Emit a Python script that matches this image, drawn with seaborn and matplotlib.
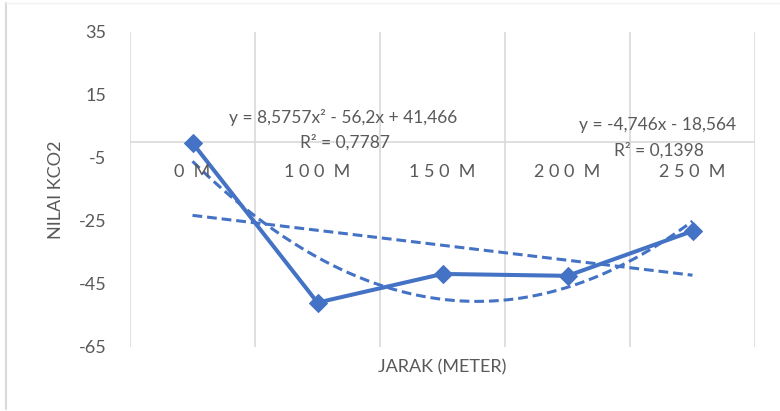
import numpy as np
import pandas as pd
import matplotlib
matplotlib.use('Agg')
import matplotlib.pyplot as plt
from matplotlib.lines import Line2D
import seaborn as sns

# data
jarak = ['0 M', '100 M', '150 M', '200 M', '250 M']
tick_text = ['0  M', '1 0 0  M', '1 5 0  M', '2 0 0  M', '2 5 0  M']
nilai_kco2 = [-0.3, -51.0, -41.9, -42.5, -28.3]
eq_poly = ['y = 8,5757x² - 56,2x + 41,466', 'R² = 0,7787']
eq_lin = ['y = -4,746x - 18,564', 'R² = 0,1398']

blue = '#4472C4'
grey = '#595959'
grid = '#d9d9d9'

sns.set_style('white')
plt.rcParams['font.family'] = ['Lato', 'DejaVu Sans']
plt.rcParams['axes.unicode_minus'] = False

df = pd.DataFrame({'pos': np.arange(len(jarak)), 'jarak': jarak, 'nilai': nilai_kco2})

# excel style trendlines, x = 1..n
xs = df['pos'].values + 1
p2 = np.polyfit(xs, df['nilai'], 2)
p1 = np.polyfit(xs, df['nilai'], 1)
xf = np.linspace(1, len(jarak), 200)
trend = pd.DataFrame({'pos': xf - 1, 'poly': np.polyval(p2, xf), 'lin': np.polyval(p1, xf)})

fig = plt.figure(figsize=(7.8, 4.11), dpi=100)
ax = fig.add_axes([130 / 780, 1 - 346.7 / 411, 625 / 780, 315 / 411])

dash = (0, (3.2, 1.6))
sns.lineplot(data=trend, x='pos', y='poly', ax=ax, color=blue, lw=2.2, linestyle=dash)
sns.lineplot(data=trend, x='pos', y='lin', ax=ax, color=blue, lw=2.2, linestyle=dash)
sns.lineplot(data=df, x='pos', y='nilai', ax=ax, color=blue, lw=2.9,
             marker='D', markersize=9.5, markeredgecolor=blue)

ax.set_xlim(-0.5, len(jarak) - 0.5)
ax.set_ylim(-65, 35)
ax.set_yticks(np.arange(-65, 36, 20))
ax.tick_params(axis='y', length=0, labelsize=13, labelcolor=grey, pad=17)
ax.set_xticks([])
for s in ax.spines.values():
    s.set_visible(False)
for b in np.arange(-0.5, len(jarak), 1):
    ax.axvline(b, color=grid, lw=1.2, zorder=0)
ax.axhline(0, color=grid, lw=1.2, zorder=0)

for i, t in enumerate(tick_text):
    ax.text(i, -9.5, t, ha='center', va='center', fontsize=13, color=grey)

# trendline labels (pixel positions of the reference)
def px(x, y):
    return x / 780, 1 - y / 411

for (x, y), t in zip([(343, 117), (345, 142)], eq_poly):
    fig.text(*px(x, y), t, ha='center', va='center', fontsize=12.5, color=grey)
for (x, y), t in zip([(658, 125), (659, 150)], eq_lin):
    fig.text(*px(x, y), t, ha='center', va='center', fontsize=12.5, color=grey)

ax.set_xlabel('')
ax.set_ylabel('')
fig.text(*px(442, 367), 'JARAK (METER)', ha='center', va='center', fontsize=13, color=grey)
fig.text(*px(56, 190), 'NILAI KCO2', ha='center', va='center', rotation=90,
         fontsize=13, color=grey)

# chart frame
fig.add_artist(Line2D([6 / 780, 6 / 780], [1 - 409 / 411, 1 - 3 / 411], color=grid, lw=1.5))
fig.add_artist(Line2D([6 / 780, 1], [1 - 3 / 411, 1 - 3 / 411], color='#f2f2f2', lw=1))

fig.savefig('out.png', dpi=100)
